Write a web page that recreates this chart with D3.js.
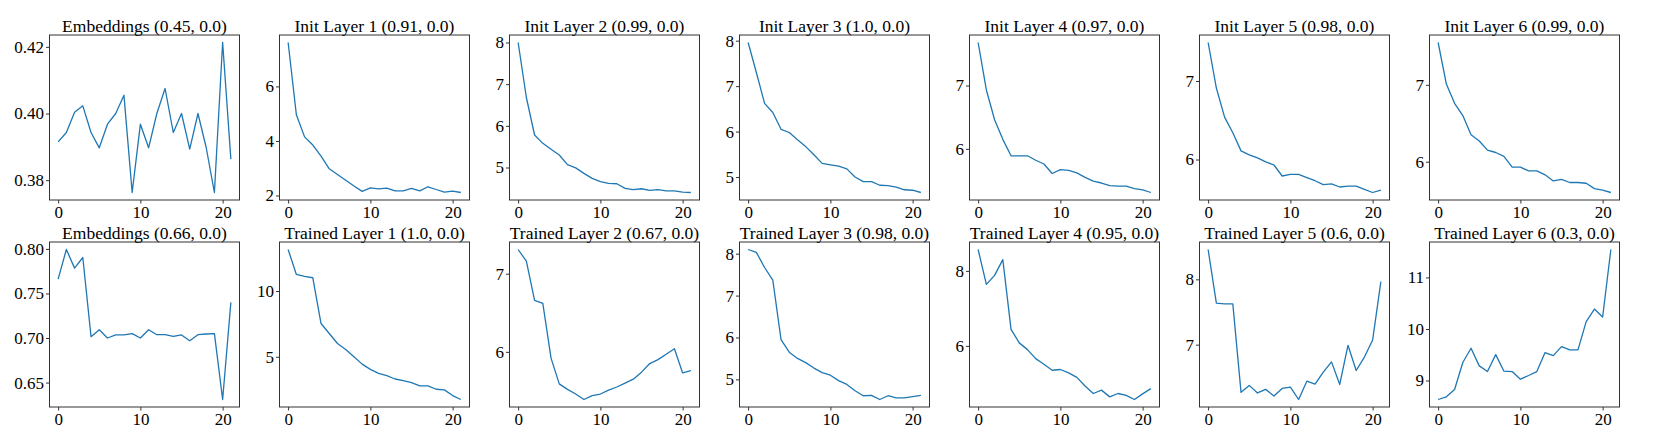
<!DOCTYPE html>
<html>
<head>
    <meta charset="utf-8">
    <script src="https://cdn.jsdelivr.net/npm/d3@7"></script>
    <style>
        body { margin: 0; background: #fff; }
        .frame { fill: none; stroke: #333; stroke-width: 1; }
        .curve { fill: none; stroke: #1f77b4; stroke-width: 1.3; stroke-linejoin: round; }
        .title { font: 17.5px "Liberation Serif", serif; fill: #000; text-anchor: middle; }
        .tick text { font: 17px "Liberation Serif", serif; fill: #000; }
        .tick line { stroke: #333; }
    </style>
</head>
<body>

<svg width="1661" height="443"></svg>

<script>
    // values per layer, index 0..21 on the x axis
    var embInit   = [0.3915, 0.3943, 0.4004, 0.4023, 0.3943, 0.3897, 0.3968, 0.400, 0.4055, 0.3763, 0.3968,
                     0.3897, 0.400, 0.4075, 0.3943, 0.400, 0.3893, 0.400, 0.3898, 0.3763, 0.4213, 0.3863];
    var initL1    = [7.61, 4.96, 4.15, 3.85, 3.44, 2.98, 2.77, 2.56, 2.35, 2.15, 2.28,
                     2.24, 2.27, 2.17, 2.17, 2.26, 2.17, 2.32, 2.22, 2.12, 2.16, 2.11];
    var initL2    = [8.0, 6.68, 5.78, 5.58, 5.44, 5.3, 5.07, 4.99, 4.86, 4.74, 4.66,
                     4.62, 4.61, 4.5, 4.47, 4.49, 4.45, 4.47, 4.44, 4.44, 4.41, 4.4];
    var initL3    = [7.96, 7.3, 6.62, 6.42, 6.05, 5.98, 5.82, 5.67, 5.49, 5.3, 5.27,
                     5.24, 5.18, 5.0, 4.9, 4.9, 4.82, 4.81, 4.78, 4.72, 4.71, 4.66];
    var initL4    = [7.68, 6.93, 6.46, 6.15, 5.89, 5.89, 5.89, 5.82, 5.76, 5.61, 5.67,
                     5.66, 5.62, 5.55, 5.49, 5.46, 5.42, 5.41, 5.41, 5.37, 5.35, 5.31];
    var initL5    = [7.49, 6.91, 6.54, 6.34, 6.11, 6.06, 6.02, 5.97, 5.93, 5.79, 5.81,
                     5.81, 5.77, 5.73, 5.68, 5.69, 5.65, 5.66, 5.66, 5.62, 5.58, 5.61];
    var initL6    = [7.55, 7.01, 6.76, 6.6, 6.35, 6.27, 6.15, 6.12, 6.07, 5.93, 5.93,
                     5.88, 5.88, 5.83, 5.75, 5.77, 5.73, 5.73, 5.72, 5.65, 5.63, 5.6];

    var embTrained = [0.766, 0.7993, 0.7784, 0.7903, 0.7015, 0.7093, 0.700, 0.7034, 0.7034, 0.7049, 0.700,
                      0.7093, 0.7037, 0.7037, 0.7019, 0.7034, 0.697, 0.7037, 0.7045, 0.7049, 0.631, 0.740];
    var trainL1   = [13.16, 11.26, 11.11, 11.01, 7.53, 6.77, 6.01, 5.56, 5.0, 4.44, 4.04,
                     3.74, 3.56, 3.31, 3.18, 3.03, 2.78, 2.78, 2.53, 2.48, 2.05, 1.75];
    var trainL2   = [7.31, 7.16, 6.66, 6.62, 5.92, 5.59, 5.52, 5.46, 5.39, 5.44, 5.46,
                     5.51, 5.55, 5.6, 5.65, 5.74, 5.85, 5.9, 5.97, 6.04, 5.73, 5.76];
    var trainL3   = [8.1, 8.03, 7.67, 7.37, 5.95, 5.65, 5.5, 5.4, 5.27, 5.16, 5.1,
                     4.97, 4.88, 4.73, 4.61, 4.62, 4.52, 4.61, 4.56, 4.56, 4.59, 4.62];
    var trainL4   = [8.57, 7.64, 7.88, 8.3, 6.44, 6.08, 5.9, 5.66, 5.51, 5.35, 5.37,
                     5.28, 5.16, 4.93, 4.73, 4.82, 4.64, 4.73, 4.68, 4.57, 4.72, 4.86];
    var trainL5   = [8.457, 7.635, 7.624, 7.624, 6.27, 6.376, 6.26, 6.315, 6.213, 6.33, 6.35,
                     6.16, 6.44, 6.396, 6.58, 6.736, 6.39, 6.99, 6.604, 6.81, 7.07, 7.964];
    var trainL6   = [8.632, 8.684, 8.826, 9.35, 9.626, 9.284, 9.174, 9.503, 9.181, 9.174, 9.026,
                     9.097, 9.174, 9.542, 9.484, 9.658, 9.594, 9.594, 10.142, 10.387, 10.232, 11.542];

    var titlesTop    = ["Embeddings (0.45, 0.0)", "Init Layer 1 (0.91, 0.0)", "Init Layer 2 (0.99, 0.0)",
                        "Init Layer 3 (1.0, 0.0)", "Init Layer 4 (0.97, 0.0)", "Init Layer 5 (0.98, 0.0)",
                        "Init Layer 6 (0.99, 0.0)"];
    var titlesBottom = ["Embeddings (0.66, 0.0)", "Trained Layer 1 (1.0, 0.0)", "Trained Layer 2 (0.67, 0.0)",
                        "Trained Layer 3 (0.98, 0.0)", "Trained Layer 4 (0.95, 0.0)", "Trained Layer 5 (0.6, 0.0)",
                        "Trained Layer 6 (0.3, 0.0)"];

    var xTicks = [0, 10, 20];
    var yTicksTop    = [[0.38, 0.40, 0.42], [2, 4, 6], [5, 6, 7, 8], [5, 6, 7, 8], [6, 7], [6, 7], [6, 7]];
    var yTicksBottom = [[0.65, 0.70, 0.75, 0.80], [5, 10], [6, 7], [5, 6, 7, 8], [6, 8], [7, 8], [9, 10, 11]];

    var seriesTop    = [embInit, initL1, initL2, initL3, initL4, initL5, initL6];
    var seriesBottom = [embTrained, trainL1, trainL2, trainL3, trainL4, trainL5, trainL6];

    var svg = d3.select("svg");

    var left0 = 49.5, pitch = 230, pw = 190, ph = 165;
    var rowTop = [35, 242];

    function drawPanel(col, row, values, title, yTicks) {
        var g = svg.append("g")
            .attr("transform", "translate(" + (left0 + col * pitch) + "," + rowTop[row] + ")");

        var n = values.length;
        var xpad = (n - 1) * 0.05;
        var x = d3.scaleLinear().domain([-xpad, n - 1 + xpad]).range([0, pw]);

        var ext = d3.extent(values);
        var ypad = (ext[1] - ext[0]) * 0.05;
        var y = d3.scaleLinear().domain([ext[0] - ypad, ext[1] + ypad]).range([ph, 0]);

        var fmt = col === 0 ? d3.format(".2f") : d3.format("d");

        g.append("g")
            .attr("transform", "translate(0," + ph + ")")
            .call(d3.axisBottom(x).tickValues(xTicks).tickSize(3.5).tickPadding(2.5))
            .call(function(a) { a.select(".domain").remove(); });

        g.append("g")
            .call(d3.axisLeft(y).tickValues(yTicks).tickFormat(fmt).tickSize(3.5).tickPadding(2))
            .call(function(a) { a.select(".domain").remove(); });

        g.append("path")
            .datum(values)
            .attr("class", "curve")
            .attr("d", d3.line()
                .x(function(d, i) { return x(i); })
                .y(function(d) { return y(d); }));

        g.append("rect")
            .attr("class", "frame")
            .attr("width", pw)
            .attr("height", ph);

        g.append("text")
            .attr("class", "title")
            .attr("x", pw / 2)
            .attr("y", -3.5)
            .text(title);
    }

    seriesTop.forEach(function(v, i) { drawPanel(i, 0, v, titlesTop[i], yTicksTop[i]); });
    seriesBottom.forEach(function(v, i) { drawPanel(i, 1, v, titlesBottom[i], yTicksBottom[i]); });
</script>

</body>
</html>
